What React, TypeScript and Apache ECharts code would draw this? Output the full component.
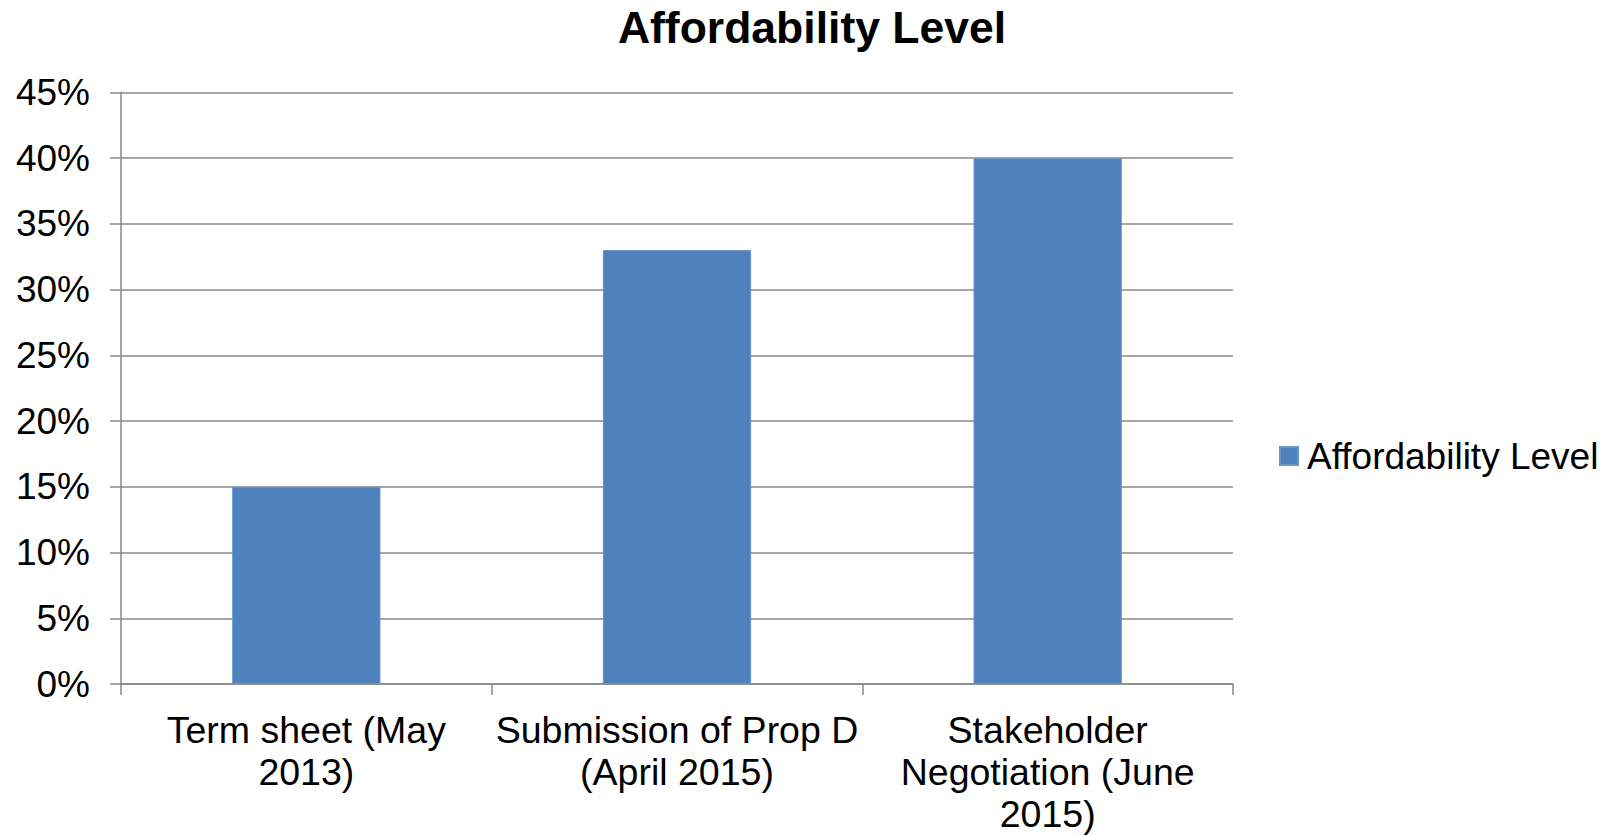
import React, { useEffect, useRef } from "react";
import * as echarts from "echarts";

const categories = [
  "Term sheet (May 2013)",
  "Submission of Prop D (April 2015)",
  "Stakeholder Negotiation (June 2015)",
];
const categoryLabels = [
  "Term sheet (May\n2013)",
  "Submission of Prop D\n(April 2015)",
  "Stakeholder\nNegotiation (June\n2015)",
];
const seriesName = "Affordability Level";
const values = [0.15, 0.33, 0.4];
const yTicks = { min: 0, max: 0.45, interval: 0.05 };

const FONT = "'Liberation Sans', Arial, Helvetica, sans-serif";
const GRAY = "#888888";

export default function App() {
  const ref = useRef<HTMLDivElement>(null);
  useEffect(() => {
    if (!ref.current) return;
    const chart = echarts.init(ref.current, undefined, { renderer: "svg" });
    chart.setOption({
      animation: false,
      backgroundColor: "#ffffff",
      textStyle: { fontFamily: FONT },
      title: {
        text: "Affordability Level",
        left: 812,
        textAlign: "center",
        top: 5,
        padding: 0,
        textStyle: { fontFamily: FONT, fontSize: 44.5, fontWeight: "bold", color: "#000" },
      },
      legend: {
        data: [seriesName],
        left: 1279,
        top: 435,
        padding: 0,
        itemWidth: 18,
        itemHeight: 18,
        icon: "rect",
        textStyle: { fontFamily: FONT, fontSize: 37, color: "#000", lineHeight: 42, padding: [0, 0, 0, 4] },
      },
      grid: { left: 121, right: 381, top: 92.3, bottom: 147.3, containLabel: false },
      xAxis: {
        type: "category",
        data: categories,
        boundaryGap: true,
        axisLine: { show: true, lineStyle: { color: GRAY, width: 1.5 } },
        axisTick: { show: true, length: 11, alignWithLabel: false, lineStyle: { color: GRAY, width: 1.5 } },
        axisLabel: {
          interval: 0,
          margin: 25,
          fontFamily: FONT,
          fontSize: 37.5,
          lineHeight: 42,
          color: "#000",
          align: "center",
          formatter: (v: string) => categoryLabels[categories.indexOf(v)] ?? v,
        },
      },
      yAxis: {
        type: "value",
        min: yTicks.min,
        max: yTicks.max,
        interval: yTicks.interval,
        axisLine: { show: true, lineStyle: { color: GRAY, width: 1.5 } },
        axisTick: { show: true, length: 11, lineStyle: { color: GRAY, width: 1.5 } },
        splitLine: { show: true, lineStyle: { color: GRAY, width: 1.5 } },
        axisLabel: {
          margin: 31,
          fontFamily: FONT,
          fontSize: 37,
          color: "#000",
          formatter: (v: number) => `${Math.round(v * 100)}%`,
        },
      },
      series: [
        {
          name: seriesName,
          type: "bar",
          data: values,
          barWidth: "40%",
          itemStyle: { color: "#4F81BD", borderColor: "#6A93C8", borderWidth: 1 },
        },
      ],
    });
    return () => chart.dispose();
  }, []);
  return (
    <div
      ref={ref}
      style={{ position: "fixed", left: 0, top: 0, width: 1614, height: 835 }}
    />
  );
}
